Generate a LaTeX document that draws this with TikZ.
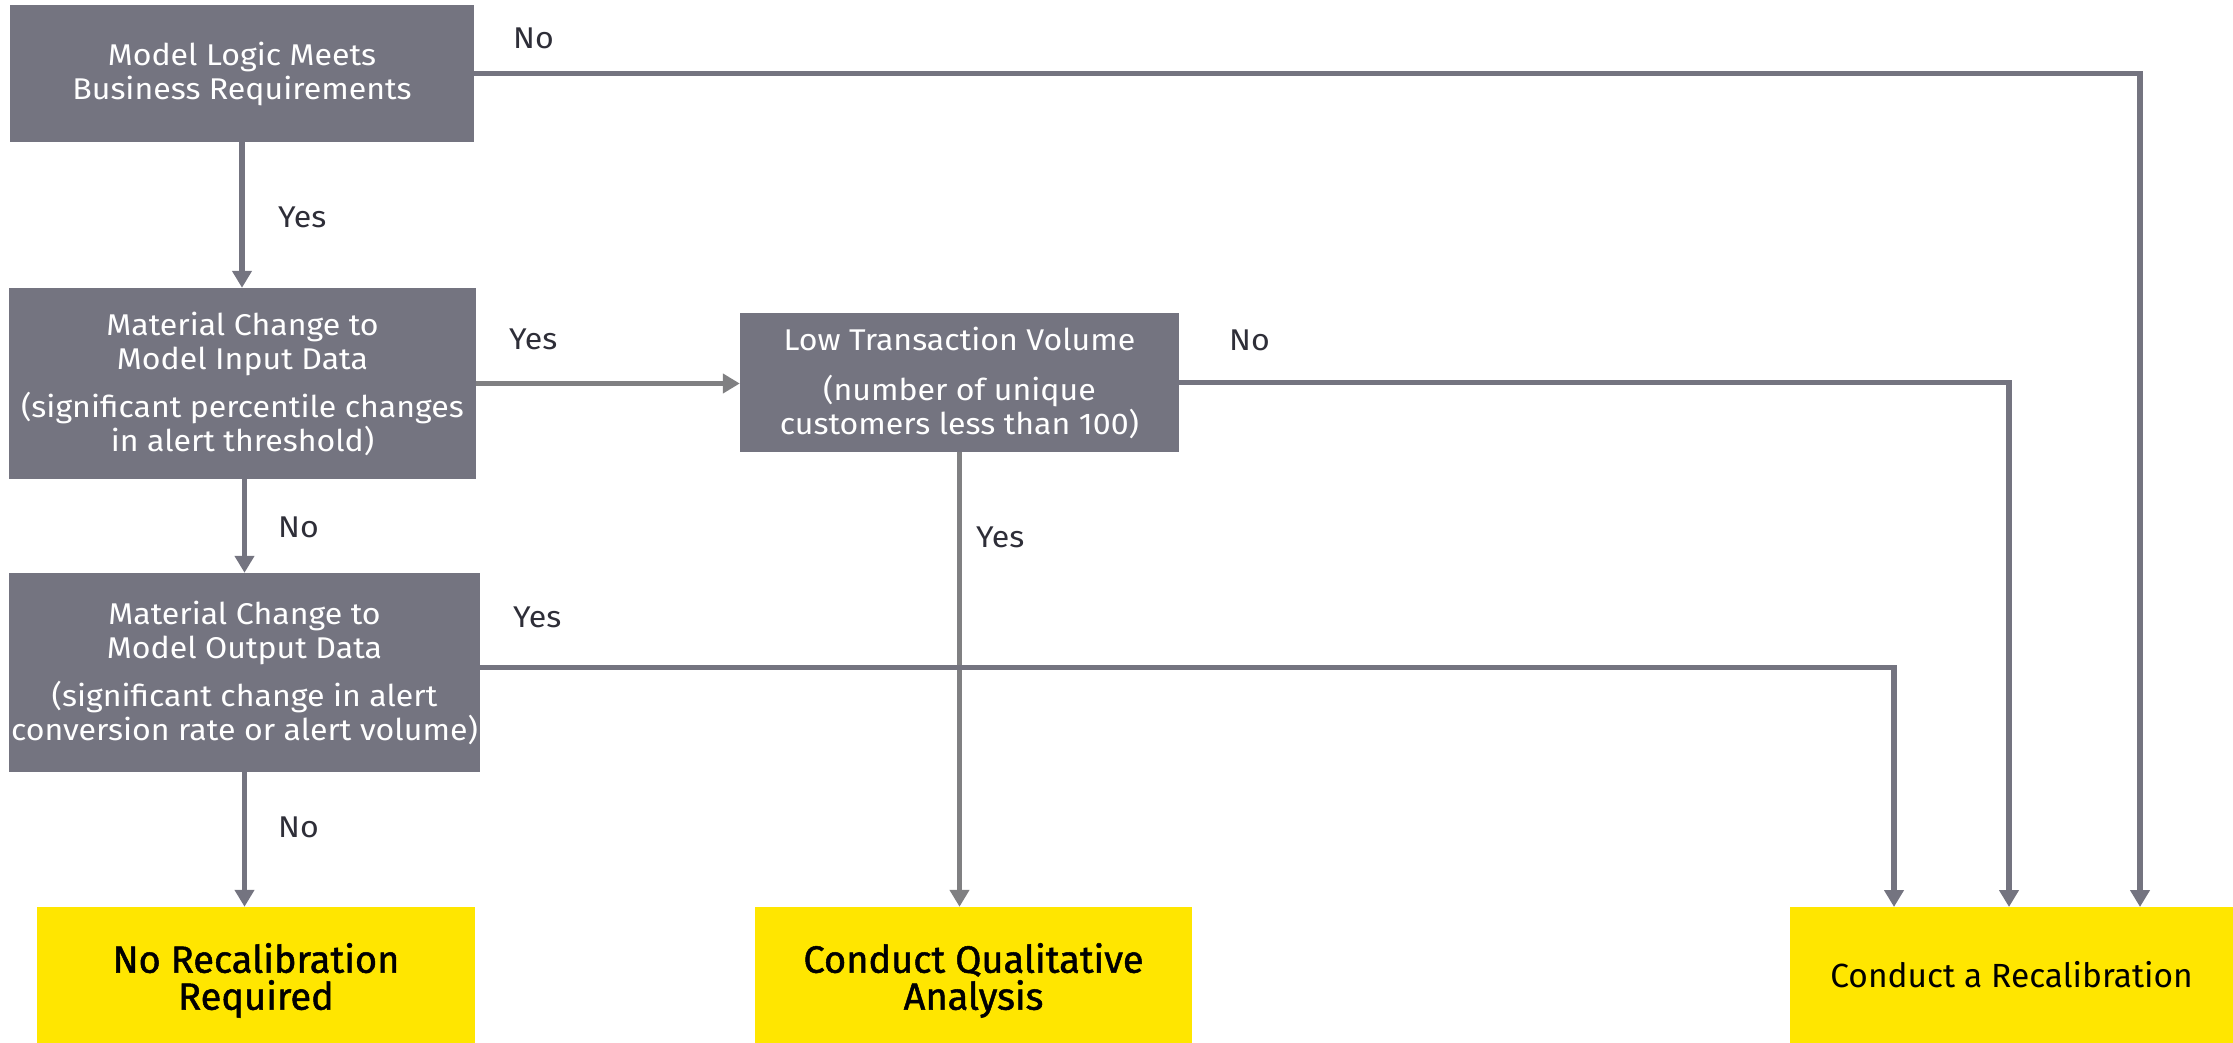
\documentclass[tikz,border=0pt]{standalone}
\usepackage{fontspec}
\setmainfont[FakeStretch=1.07]{Fira Sans}
\newfontfamily\yelbold[FakeBold=1.3]{Fira Sans}
\newfontfamily\yelreg{Fira Sans}
\usetikzlibrary{arrows.meta}
\definecolor{boxgray}{HTML}{747480}
\definecolor{linegray}{HTML}{747480}
\definecolor{lightline}{HTML}{808082}
\definecolor{labeldark}{HTML}{2E2E38}
\definecolor{eyyellow}{HTML}{FFE600}
% invisible strut that lowers two-line outcome text a little
\newcommand{\toppad}{\rule{0pt}{40.5pt}}
\tikzset{
  decision/.style={fill=boxgray, text=white, inner sep=0pt, align=center,
    font=\fontsize{30}{34}\selectfont},
  outcome/.style={fill=eyyellow, text=black, inner sep=0pt, align=center,
    minimum height=136pt},
  conn/.style={draw=linegray, line width=5.5pt, line join=miter,
    -{Triangle[length=17pt,width=19pt]}},
  connlight/.style={conn, draw=lightline},
  branch/.style={text=labeldark, inner sep=0pt, anchor=west,
    font=\fontsize{30}{33}\selectfont}
}
\begin{document}
\begin{tikzpicture}[x=1pt,y=-1pt]
\useasboundingbox (0,0) rectangle (2233,1043);

% decision boxes
\node[decision, minimum width=464pt, minimum height=137pt] (b1) at (242,73.5)
  {Model Logic Meets\\Business Requirements};
\node[decision, minimum width=467pt, minimum height=191pt] (b2) at (242.5,383.5)
  {Material Change to\\Model Input Data\\[14pt](significant percentile changes\\in alert threshold)};
\node[decision, minimum width=471pt, minimum height=199pt] (b3) at (244.5,672.5)
  {Material Change to\\Model Output Data\\[14pt](significant change in alert\\conversion rate or alert volume)};
\node[decision, minimum width=439pt, minimum height=139pt] (low) at (959.5,382.5)
  {Low Transaction Volume\\[16pt](number of unique\\customers less than 100)};

% outcome boxes
\node[outcome, minimum width=438pt, font=\yelbold\fontsize{38}{37}\selectfont] (y1) at (256,975)
  {\toppad No Recalibration\\Required};
\node[outcome, minimum width=437pt, font=\yelbold\fontsize{38}{37}\selectfont] (y2) at (973.5,975)
  {\toppad Conduct Qualitative\\Analysis};
\node[outcome, minimum width=443pt, font=\yelreg\fontsize{33.5}{37}\selectfont] (y3) at (2011.5,975)
  {Conduct a Recalibration};

% drop points on the recalibration box
\coordinate (t1) at (2140,907);
\coordinate (t2) at (2009,907);
\coordinate (t3) at (1894,907);

% connectors
\draw[conn] (b1.south) -- (b1.south |- b2.north);
\draw[conn] (b1.east) -| (t1);
\draw[connlight] (b2.east) -- (b2.east -| low.west);
\draw[conn] (low.east) -| (t2);
\draw[connlight] (low.south) -- (low.south |- y2.north);
\draw[conn] (b2.south -| b3.north) -- (b3.north);
\draw[conn] ([yshift=5pt]b3.east) -| (t3);
\draw[conn] (b3.south) -- (b3.south |- y1.north);

% branch labels
\node[branch] (lno1) at (513,38) {No};
\node[branch] (lyes1) at (278,217) {Yes};
\node[branch] (lyes2) at (509,339) {Yes};
\node[branch] (lno2) at (1229,340) {No};
\node[branch] (lyes3) at (976,537) {Yes};
\node[branch] (lno3) at (278,527) {No};
\node[branch] (lyes4) at (513,617) {Yes};
\node[branch] (lno4) at (278,827) {No};
\end{tikzpicture}
\end{document}
